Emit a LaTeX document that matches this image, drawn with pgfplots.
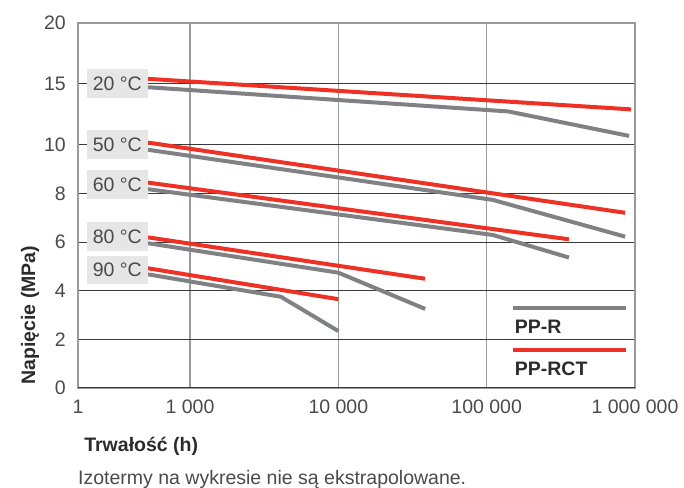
\documentclass[border=0pt]{standalone}
\usepackage{pgfplots}
\pgfplotsset{compat=1.18}
\usepackage{fontspec}
\setmainfont{Liberation Sans}
\definecolor{ppr}{HTML}{808184}
\definecolor{pprct}{HTML}{EE3124}
\definecolor{gridv}{HTML}{9A9A9A}
\definecolor{gridh}{HTML}{3A3A3A}
\definecolor{boxfill}{HTML}{E6E6E7}
\definecolor{txt}{HTML}{4A4A4A}
\definecolor{txtb}{HTML}{2B2B2B}
\begin{document}
\begin{tikzpicture}
\path[use as bounding box] (0,0) rectangle (684bp,488bp);
\begin{axis}[
  at={(78bp,100bp)}, anchor=south west,
  scale only axis, width=557bp, height=365bp,
  font=\fontsize{19.5bp}{23bp}\selectfont,
  /pgf/number format/assume math mode=true,
  xmode=log, xmin=175.8, xmax=1000000,
  ymin=0, ymax=20,
  y coord trafo/.code={\pgfmathparse{ifthenelse(#1<=10,#1,10+(#1-10)/2)}},
  xtick={1000,10000,100000},
  xticklabels={1 000,10 000,100 000},
  extra x ticks={175.8,1000000},
  extra x tick labels={1,1 000 000},
  extra x tick style={grid=none},
  ytick={0,2,4,6,8,10,15},
  yticklabels={0,2,4,6,8,10,15},
  extra y ticks={20},
  extra y tick labels={20},
  extra y tick style={grid=none},
  minor tick num=0,
  tick style={draw=none},
  major tick length=0pt,
  xmajorgrids, ymajorgrids,
  major grid style={draw=gridh, line width=0.8bp},
  every axis x grid/.append style={draw=gridv, line width=1.5bp},
  axis line style={draw=gridv, line width=1.3bp},
  ticklabel style={text=txt},
  yticklabel style={anchor=east, inner sep=0pt, xshift=-12bp},
  xticklabel style={anchor=north, inner sep=0pt, yshift=-12bp},
  xlabel={Trwałość (h)},
  xlabel style={at={(rel axis cs:0.005,0)}, anchor=base west, yshift=-63.7bp, font=\fontsize{19.5bp}{23bp}\selectfont\bfseries, text=txtb},
  ylabel={Napięcie (MPa)},
  ylabel style={at={(rel axis cs:-0.0772,0)}, anchor=base west, font=\fontsize{19.5bp}{23bp}\selectfont\bfseries, text=txtb},
  legend cell align=left,
  legend image code/.code={\draw[#1] (0bp,25bp) -- (113bp,25bp); \path (0bp,0bp);},
  legend style={at={(rel axis cs:0.7768,0.2247)}, anchor=north west, draw=none, fill=none,
    inner sep=0pt, row sep=13bp, column sep=-113bp, cells={anchor=base west},
    nodes={inner sep=0pt, font=\fontsize{19.5bp}{23bp}\selectfont\bfseries, text=txtb}},
]
% PP-R (grey)
\addplot[ppr, line width=4bp, line join=round] coordinates {(521,14.72) (140000,12.73) (912000,10.72)};
\addlegendentry{PP-R}
% PP-RCT (red)
\addplot[pprct, line width=4bp, line join=round] coordinates {(521,15.41) (940000,12.90)};
\addlegendentry{PP-RCT}
\addplot[ppr, line width=4bp, line join=round, forget plot] coordinates {(521,9.79) (110000,7.73) (858000,6.22)};
\addplot[ppr, line width=4bp, line join=round, forget plot] coordinates {(521,8.17) (110000,6.29) (359000,5.36)};
\addplot[ppr, line width=4bp, line join=round, forget plot] coordinates {(521,5.95) (10000,4.74) (38500,3.25)};
\addplot[ppr, line width=4bp, line join=round, forget plot] coordinates {(521,4.67) (4100,3.75) (10000,2.34)};
\addplot[pprct, line width=4bp, line join=round, forget plot] coordinates {(521,10.17) (858000,7.20)};
\addplot[pprct, line width=4bp, line join=round, forget plot] coordinates {(521,8.44) (359000,6.11)};
\addplot[pprct, line width=4bp, line join=round, forget plot] coordinates {(521,6.19) (38500,4.49)};
\addplot[pprct, line width=4bp, line join=round, forget plot] coordinates {(521,4.92) (10000,3.65)};
% bottom frame line (dark)
\draw[gridh, line width=1bp] (rel axis cs:0,0) -- (rel axis cs:1,0);
% isotherm labels
\tikzset{iso/.style={fill=boxfill, text=txt, inner sep=0pt, minimum width=61bp, minimum height=28.7bp, anchor=east}}
\node[iso] at (axis cs:521,15) {20 °C};
\node[iso] at (axis cs:521,10) {50 °C};
\node[iso] at (axis cs:521,8.36) {60 °C};
\node[iso] at (axis cs:521,6.22) {80 °C};
\node[iso] at (axis cs:521,4.85) {90 °C};
\end{axis}
% caption
\node[anchor=base west, text=txt, inner sep=0pt, font=\fontsize{19.5bp}{23bp}\selectfont] at (78bp,4bp) {Izotermy na wykresie nie są ekstrapolowane.};
\end{tikzpicture}
\end{document}
